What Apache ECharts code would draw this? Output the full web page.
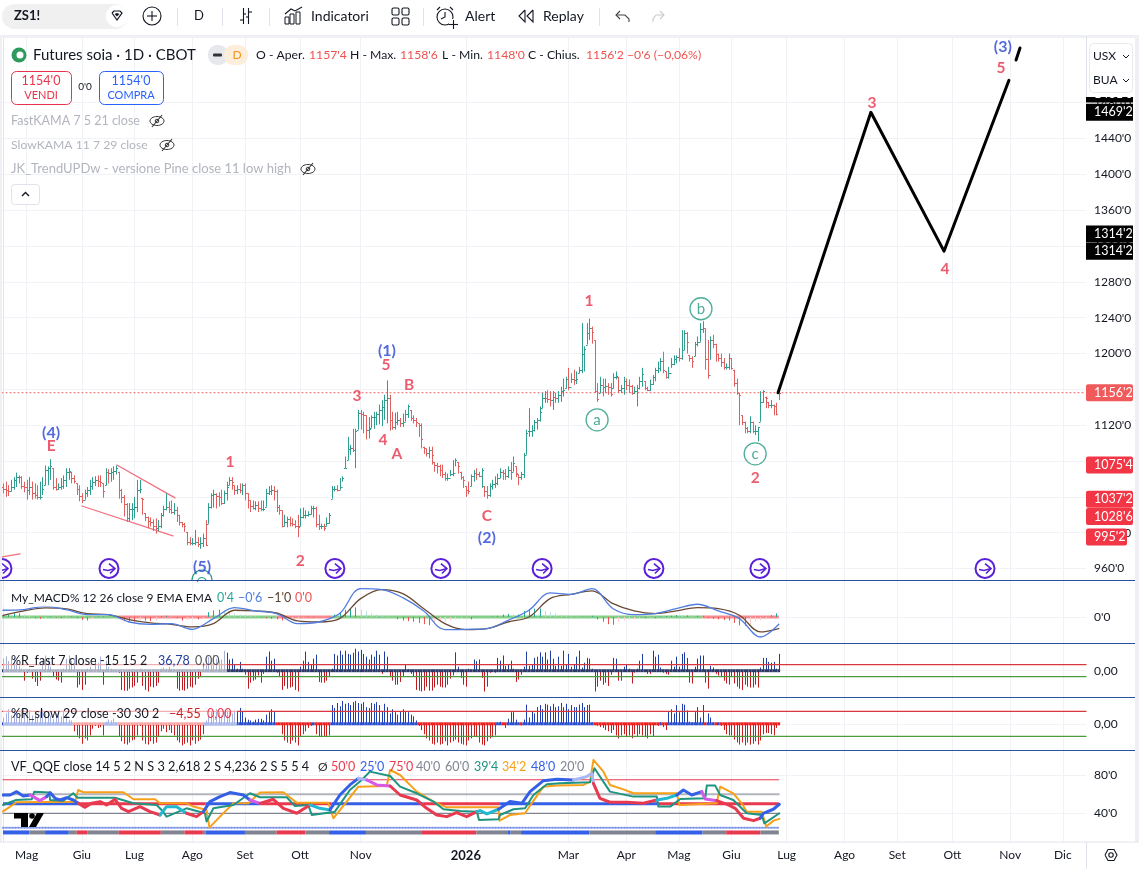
<!DOCTYPE html>
<html><head><meta charset="utf-8">
<style>html,body{margin:0;padding:0;background:#fff}#c{width:1139px;height:869px}</style>
<script src="https://cdn.jsdelivr.net/npm/echarts@6/dist/echarts.min.js"></script>
</head><body><div id="c"></div>
<script>
const opens=[1051,1049,1048,1046,1051,1059,1062,1062,1052,1051,
1048,1051,1044,1042,1040,1040,1053,1070,1072,1072,
1051,1049,1051,1052,1059,1068,1068,1061,1055,1049,
1041,1037,1044,1048,1052,1057,1059,1058,1055,1053,
1068,1067,1068,1069,1068,1048,1040,1032,1016,1026,
1027,1029,1048,1039,1022,1018,1013,1012,1008,1005,
1008,1020,1027,1029,1027,1023,1025,1020,1012,1010,
1001,990,989,989,990,987,988,994,1010,1029,
1042,1043,1041,1040,1033,1044,1053,1059,1053,1048,
1049,1048,1053,1044,1036,1030,1028,1031,1028,1026,
1029,1044,1047,1048,1046,1029,1025,1008,1012,1015,
1011,1010,1008,1007,1018,1020,1020,1021,1028,1028,
1010,1007,1007,1007,1011,1038,1049,1049,1048,1051,
1072,1081,1093,1094,1092,1115,1134,1133,1131,1115,
1117,1129,1129,1132,1137,1140,1148,1150,1126,1118,1124,
1126,1122,1124,1133,1137,1128,1126,1122,1120,1096,
1094,1089,1092,1079,1076,1074,1070,1065,1061,1061,
1066,1067,1079,1068,1062,1052,1048,1052,1063,1067,
1066,1063,1052,1046,1042,1052,1054,1056,1061,1068,
1067,1063,1070,1068,1074,1065,1062,1066,1087,1113,
1113,1115,1124,1126,1139,1150,1150,1149,1148,1152,
1150,1154,1158,1161,1172,1163,1172,1171,1178,1182,
1200,1210,1223,1228,1215,1158,1156,1165,1163,1164,
1163,1161,1174,1174,1159,1161,1169,1165,1164,1156,
1158,1161,1169,1169,1162,1159,1166,1174,1182,1184,
1192,1180,1174,1178,1188,1194,1196,1195,1204,1223,
1198,1195,1197,1211,1213,1227,1228,1194,1176,1215,
1211,1200,1195,1191,1185,1185,1195,1182,1167,1156,
1131,1124,1117,1113,1124,1113,1113,1124,1146,1152,
1146,1143,1143,1141,1157.5];
const highs=[1055,1057,1053,1059,1062,1067,1064,1063,1057,1059,
1062,1057,1055,1053,1057,1062,1075,1074,1082,1072,
1061,1055,1061,1064,1072,1072,1068,1064,1055,1053,
1044,1048,1051,1059,1062,1063,1064,1064,1055,1072,
1071,1072,1074,1075,1068,1049,1042,1033,1033,1033,
1040,1059,1059,1039,1022,1018,1017,1015,1016,1014,
1022,1030,1044,1035,1036,1033,1029,1020,1012,1011,
1001,995,994,1003,995,995,999,1014,1033,1044,
1048,1044,1045,1048,1047,1057,1062,1062,1053,1053,
1055,1055,1055,1044,1036,1036,1035,1035,1036,1036,
1049,1052,1053,1052,1048,1031,1025,1020,1018,1018,
1016,1014,1020,1027,1028,1025,1024,1030,1030,1029,
1020,1010,1010,1017,1022,1052,1052,1053,1061,1063,
1085,1107,1098,1116,1116,1137,1137,1135,1131,1129,
1131,1135,1135,1143,1148,1154,1170,1154,1135,1134,1135,
1128,1133,1137,1143,1137,1131,1128,1122,1122,1096,
1094,1096,1096,1079,1078,1076,1076,1068,1066,1070,
1081,1083,1079,1068,1063,1052,1057,1065,1070,1072,
1068,1072,1052,1052,1055,1059,1063,1066,1072,1070,
1071,1074,1079,1085,1074,1065,1068,1089,1115,1139,
1120,1126,1128,1141,1156,1158,1159,1158,1158,1156,
1158,1163,1172,1174,1184,1178,1182,1180,1185,1234,
1208,1234,1239,1230,1215,1167,1174,1172,1172,1167,
1167,1178,1180,1174,1165,1174,1172,1171,1165,1163,
1165,1174,1184,1169,1163,1171,1176,1184,1191,1195,
1202,1180,1185,1195,1198,1198,1206,1226,1226,1224,
1198,1197,1213,1219,1234,1236,1228,1215,1219,1221,
1211,1200,1200,1195,1189,1200,1195,1182,1172,1156,
1131,1124,1118,1130,1124,1120,1118,1158,1159,1152,
1146,1148,1143,1145,1158.75];
const lows=[1044,1040,1041,1046,1048,1051,1055,1049,1045,1037,
1042,1037,1038,1037,1037,1042,1053,1053,1059,1048,
1047,1048,1048,1049,1051,1059,1055,1055,1042,1035,
1033,1037,1040,1042,1048,1052,1051,1051,1039,1053,
1055,1057,1059,1065,1038,1033,1018,1012,1013,1014,
1016,1023,1044,1020,1013,1005,1007,1002,999,1002,
1005,1018,1025,1022,1021,1020,1012,1008,1006,1001,
986,986,986,986,984,982,984,985,1010,1027,
1028,1027,1029,1031,1032,1036,1053,1048,1042,1043,
1044,1042,1036,1027,1023,1026,1025,1023,1024,1024,
1029,1042,1042,1036,1023,1020,1006,1007,1006,1007,
1007,1005,995,1007,1016,1016,1018,1020,1017,1006,
1003,1004,1002,1007,1010,1038,1046,1046,1048,1057,
1072,1081,1087,1090,1072,1115,1115,1111,1104,1105,
1117,1116,1120,1121,1119,1126,1122,1114,1115,1115,1120,
1118,1118,1124,1128,1125,1122,1118,1107,1094,1088,
1085,1083,1076,1068,1066,1063,1061,1058,1058,1063,
1063,1074,1066,1059,1050,1040,1043,1052,1057,1059,
1062,1050,1040,1038,1040,1048,1050,1053,1061,1059,
1059,1061,1059,1068,1062,1053,1059,1061,1087,1107,
1107,1113,1115,1124,1139,1145,1145,1141,1137,1145,
1145,1146,1152,1161,1159,1167,1165,1166,1178,1178,
1180,1210,1215,1211,1156,1146,1156,1152,1156,1154,
1152,1161,1171,1156,1156,1154,1159,1156,1154,1155,
1141,1160,1163,1159,1158,1158,1165,1169,1178,1180,
1178,1172,1172,1184,1187,1189,1191,1193,1204,1200,
1191,1184,1197,1208,1213,1223,1182,1172,1193,1206,
1191,1191,1185,1182,1182,1182,1182,1163,1154,1120,
1120,1111,1111,1111,1111,1109,1102,1124,1145,1139,
1139,1139,1131,1131,1148];
const closes=[1049,1048,1046,1051,1059,1062,1062,1052,1051,1048,
1051,1044,1042,1040,1040,1049,1070,1072,1074,1051,
1049,1051,1052,1059,1068,1069,1061,1058,1049,1041,
1037,1044,1048,1052,1057,1059,1058,1057,1047,1068,
1067,1068,1069,1072,1048,1040,1032,1016,1026,1027,
1029,1048,1049,1038,1018,1013,1012,1008,1005,1008,
1020,1027,1029,1027,1023,1025,1020,1012,1010,1007,
990,989,989,990,987,988,994,986,1029,1042,
1043,1041,1040,1033,1044,1051,1059,1057,1048,1049,
1048,1053,1044,1036,1030,1028,1031,1028,1026,1027,
1044,1047,1048,1046,1029,1025,1008,1012,1015,1011,
1010,1008,1006,1018,1020,1020,1021,1028,1028,1010,
1007,1007,1005,1011,1020,1049,1049,1048,1051,1061,
1072,1093,1094,1092,1114,1134,1133,1131,1115,1116,
1129,1129,1132,1137,1140,1148,1150,1126,1118,1124,1126,
1122,1124,1133,1141,1128,1126,1124,1120,1105,1094,
1089,1092,1087,1076,1074,1070,1065,1061,1061,1066,
1067,1081,1074,1062,1059,1048,1047,1063,1067,1066,
1063,1070,1046,1042,1052,1054,1056,1061,1068,1067,
1063,1070,1068,1078,1067,1062,1066,1087,1111,1113,
1115,1124,1126,1135,1150,1150,1149,1148,1152,1150,
1154,1158,1159,1172,1163,1172,1171,1172,1182,1200,
1205,1223,1228,1224,1158,1149,1165,1163,1164,1163,
1155,1174,1175,1159,1161,1169,1165,1164,1156,1158,
1161,1169,1177,1162,1159,1166,1174,1182,1184,1192,
1182,1174,1178,1188,1194,1196,1195,1204,1223,1213,
1195,1192,1211,1213,1227,1228,1194,1176,1215,1211,
1200,1195,1191,1185,1185,1195,1184,1167,1156,1154,
1124,1117,1113,1124,1113,1113,1118,1146,1158,1150,
1143,1143,1141,1133,1156.25];

const priceTicks=[960,1000,1040,1080,1120,1160,1200,1240,1280,1320,1360,1400,1440,1480];
const monthDays=[9,30,50,72,92,113,136,176,215,237,257,277,298,320,340,361,383,403];
const monthNames=['Mag','Giu','Lug','Ago','Set','Ott','Nov','2026','Mar','Apr','Mag','Giu','Lug','Ago','Set','Ott','Nov','Dic'];

const forecastDaysA=[294.7,330,357.8,382.5];
const forecastPricesA=[1156.25,1469.25,1314.25,1505];
const forecastDaysB=[385.2,386.7];
const forecastPricesB=[1527.6,1541];
const channelUpperDays=[43.3,65.4], channelUpperPrices=[1075.6,1038.8];
const channelLowerDays=[30,64.6], channelLowerPrices=[1029.8,996.4];
const stubDays=[-0.4,6.5], stubPrices=[973,976.3];

const waveTexts=['E','(4)','1','2','5','(1)','3','4','A','B','C','(2)','1','2','3','4','5','(3)','(5)'];
const waveDays=[18.3,18.3,86.3,113,145.6,146,134.6,144.5,149.8,154.4,184,184,222.8,286,330.4,358.2,379.5,380.2,75.7];
const wavePrices=[1097,1111,1079,968.5,1187,1203,1153,1103.5,1088,1165,1018.6,994,1258.6,1061,1479.6,1294,1518.7,1542,962];
const circledTexts=['a','b','c'];
const circledDays=[225.9,265.4,286];
const circledPrices=[1126,1250,1088];
const sessionDays=[-0.4,40.3,126.2,166.5,205,247.5,287.8,373.4];
const sessionPrice=960;

const tagTexts=["1481'0","1469'2","1314'2","1314'2","1156'2","1075'4","1037'2","1028'6","995'2"];
const tagPrices=[1489.7,1469.25,1333.4,1314.25,1156.25,1075.5,1037.25,1018,995.25];
const tagColours=['#000','#000','#000','#000','#f05a5a','#f23645','#f23645','#f23645','#f23645'];

const macdDays=[0,8,16,24,32,40,48,56,64,72,80,88,96,104,112,120,128,136,144,152,160,168,176,184,192,200,208,216,224,232,240,248,256,264,272,280,288,295];
const macdFast=[.56,.61,.89,.61,.19,.19,-.42,-.61,-.56,-1.03,-.14,.78,.5,.28,-.56,-.42,.28,2.36,2.28,1.61,.5,-1.06,-1.03,-.97,-.28,.56,2,1.89,2.36,.69,.19,.28,.69,1.06,.5,-.14,-1.67,-.61];
const macdSlow=[.14,.5,.75,.67,.28,.19,-.22,-.5,-.61,-.83,-.56,.56,.5,.33,-.33,-.42,-.14,1.53,2.28,1.94,.69,-.56,-1.06,-.97,-.42,0,1.53,1.89,2.17,1.11,.5,.28,.5,.78,.69,.14,-1.25,-.97];
const macdHist=[.1,.2,.3,.3,.2,.1,-.1,-.15,-.1,.05,-.05,-.1,-.05,.05,-.1,-.25,-.3,-.2,.05,.05,0,0,0,-.3,-.4,-.4,-.3,-.3,-.35,-.3,.08,.1,.05,-.1,-.3,-.25,-.2,-.2,-.1,.4,.55,.6,.55,.45,.3,.2,.15,.1,.05,-.05,-.1,-.15,-.2,-.3,-.2,-.15,-.1,-.05,-.05,-.05,0,0,.02,.2,.4,.6,.75,.8,.6,.45,.3,.2,.1,.05,.02,-.2,-.3,-.35,-.4,-.5,-.6,-.7,-.6,-.45,-.4,-.3,-.2,-.1,-.05,-.2,.02,0,0,.05,.1,.2,.25,.2,.2,.5,.65,.7,.7,.5,.4,.3,.2,.1,.05,.02,.02,.02,.1,-.2,-.4,-.6,-.65,-.4,-.3,-.2,-.15,-.1,-.1,-.05,-.1,.05,.08,.1,.15,.1,.12,.05,.1,.1,-.1,-.15,-.2,-.25,-.3,-.5,-.7,-.75,-.6,-.4,-.3,-.1,.15,.3];
const macdZeroGreen=[[-1,44],[79,104],[125,198],[198,266]];
const macdZeroRed=[[44,79],[104,125],[266,295]];

const rFast=[30,36,24,30,34,20,12,5,-25,-5,
5,-20,-28,-38,-25,25,38,30,10,-15,
-22,-25,-30,5,30,38,25,30,-42,-35,
-48,-35,5,10,3,30,20,35,-35,25,
10,5,2,0,-5,-48,-50,-50,-45,-42,
-38,-30,5,-38,-48,-52,-40,-42,-38,-30,
5,8,5,10,5,4,-45,-50,-48,-50,
-45,-40,-42,-35,-20,-15,20,38,34,30,
40,30,25,28,50,45,28,30,15,5,
22,5,-10,-45,-30,-25,-22,-12,-30,-8,
35,48,25,30,-5,-15,-48,-38,-45,-42,
-40,-48,-52,10,25,48,22,15,30,40,
-28,-30,-30,-25,-15,5,42,38,50,40,
50,42,40,45,55,48,52,42,35,28,
40,35,50,40,-8,48,35,-15,-25,-35,-35,
-28,-15,15,4,-8,-15,-48,-50,-52,-50,
-40,-50,-50,-42,-35,-40,-42,-42,-35,-20,
-12,46,10,-18,-35,-40,5,3,28,24,
28,-18,-52,-40,-5,2,-5,32,25,38,
12,15,25,5,-28,-22,-10,10,48,12,
15,32,35,46,35,46,28,50,30,12,
35,12,50,15,42,10,15,35,50,8,
20,32,30,5,-52,-40,-25,-35,-30,-38,
-10,32,30,-25,-25,10,15,5,-32,-5,
5,25,42,2,-8,-8,50,35,40,8,
-5,-8,-10,25,10,35,10,42,46,32,
-30,-32,10,30,38,38,-30,-45,12,8,
-8,-12,-15,-25,-32,-35,-15,-32,-40,-45,
-48,-35,-40,-42,-42,-35,-42,8,32,32,
22,20,22,5,42];
const rSlow=[15,25,35,20,30,28,22,35,25,30,
32,20,28,15,30,35,25,30,20,12,
25,32,18,28,22,10,8,-18,-28,-35,
-48,-35,-40,-28,-12,-5,-10,-8,-28,5,
10,8,12,3,-30,-42,-48,-50,-45,-40,
-38,-28,-5,-40,-48,-50,-42,-48,-45,-30,
-18,-12,-20,-15,-22,-28,-40,-45,-52,-48,
-45,-52,-40,-48,-42,-38,-25,8,20,30,
25,35,28,20,30,32,30,25,32,28,
38,30,15,10,8,5,10,12,12,8,
22,28,35,28,-2,-2,-25,-40,-45,-48,
-40,-45,-52,-30,-25,-18,-10,-5,2,-25,
-30,-32,-30,-32,-28,45,38,50,42,55,
48,50,45,52,55,50,48,52,40,38,
50,48,52,45,30,48,40,25,35,28,22,
30,35,30,28,22,18,8,-5,-15,-25,
-35,-40,-48,-50,-45,-50,-48,-42,-52,-45,
-42,-38,-45,-48,-50,-52,-40,-35,-30,-32,
-45,-50,-52,-42,-35,-32,-28,3,5,-3,
-10,12,28,28,10,2,-4,10,46,15,
30,25,40,45,35,48,46,42,48,40,
42,50,40,48,35,45,40,40,46,50,
40,45,46,3,-3,-5,-8,-10,-15,-18,
-22,-15,-28,-35,-28,-25,-30,-28,-35,-25,
-30,-25,-28,-32,-35,-25,-30,-3,-5,3,
-8,-15,28,35,25,45,28,48,46,32,
5,3,28,40,15,45,-3,25,15,3,
-2,3,-5,-15,-25,-28,-28,-38,-45,-50,
-45,-52,-45,-50,-48,-42,-50,-40,-25,-22,
-22,-25,-28,-10,-3];

const qqeMainDays=[0,2.7,5.2,7.7,10.3,11.5,14,16.6,17.9,19.8,21.7,24.2,26.7,28.6,31.2,33.7,36.9,39.4,42.6,45.1,47.7,52.1,55.9,59.7,62.2,66,69.8,73.6,76.2,78.7,82.5,86.3,91.4,93.9,97.7,102.8,106.6,111.7,116.7,120.5,124.3,128.1,131.9,135.1,138.3,142.1,147.2,151,
157.3,161.1,164.9,168.7,172.5,176.3,180.2,181.4,184,188.4,192.8,197.3,200.4,205.5,210.6,216.9,222,223.9,224.5,227,230.8,237.2,243.5,248.6,252.4,256.2,258.7,261.9,265.7,267,271.4,275.8,278.4,281.6,285.4,287.9,289.1,292.9,295.2];
const qqeMain=[59.1,59.1,62.6,58,59.1,57.4,53.2,57.4,61.6,55.6,53.9,56.3,53.9,50.4,46.2,50.4,52.2,48.7,54.6,45.2,41.7,46.9,41.7,38.2,46.9,46.9,40,36.5,41.7,52.2,57.4,61.6,59.1,53.9,50.4,54.6,45.2,40,48.7,45.2,43.5,59.1,69.6,76.5,74.8,69.6,68.5,59.1,
53.9,45.2,38.2,36.5,40.7,36.5,41.7,42.8,39.3,44.2,52.2,50.4,62.6,74.1,75.5,74.8,78.3,81.7,71.3,55.6,51.5,51.5,50.4,53.9,55.6,59.1,64.3,59.1,62.6,54.9,53.2,48.7,45.2,34.8,32.3,34.8,40,44.2,49.4];
const qqeOrangeDays=[0,5.2,27.4,28.6,30.5,45.8,49.6,57.8,59.7,69.8,72.4,77.4,78.5,82.5,87.6,93.3,97.7,106.6,111.7,123.7,125.6,130.7,135.1,145.9,147.2,151,
157.3,163.7,168.7,188.4,188.8,192.8,198.5,201,205.5,210.6,220.7,223.2,224.5,228.3,230.8,235.9,239.7,256.2,257.2,271.4,272.7,277.7,280.9,282.8,288.5,290.2,293,295.2];
const qqeOrange=[42,51.5,52,64.3,62,62,54.6,54.6,50.4,50.4,47,43.5,25,36.5,50.4,50.4,61.6,61.9,51,51,34.8,52.2,67.8,68.5,85.2,80,
62.6,52.2,46.2,46.2,32.3,38.2,40,50.4,67.8,68.9,69.6,73,95.7,83.5,69.6,65,60.9,60.9,48.7,50.4,67.8,60.9,50.4,41.7,41.7,26.1,32.3,34.2];
const qqeTealDays=[0,5,10.9,11.9,17.6,17.9,23,26.7,28.3,42.6,49.6,58.4,60.3,62.2,69.8,76.8,77.4,80,87.6,93.9,97.7,107.9,111,116.1,117.4,124.3,126.2,131.9,136.4,139.5,147.2,151,
157.3,163.7,167.5,173.8,180.2,181,188.4,189,194.1,198.5,201.7,206.8,211.8,223.2,224.9,230.8,239.7,248.6,249.2,253.7,257.5,267,267.6,270.8,272.7,277.7,282.8,288.5,289.5,295.2];
const qqeTeal=[48.7,53.9,54.6,62.6,61.6,53.9,53.2,60.9,56.3,56.3,50.4,48.7,43.5,36.5,45.2,40,31.3,45.2,48.7,60.9,56.7,56.7,47.6,48.7,38.2,40.7,41.7,64.3,74.8,83.5,79,67.8,
60.9,52.2,44.2,42.4,41.7,33,33.7,38.2,44.2,45.2,59.1,70.3,71.3,72.3,87,62.6,57.4,57.4,47,47,54.9,55.6,68.9,68.9,59.1,53.9,40,38.2,29.5,40];
const qqeSpans=[[0,4,'b'],[4,7,'m'],[7,13,'b'],[13,23,'r'],[23,26,'c'],[26,28,'r'],[28,33,'b'],[33,34,'m'],[34,38,'r'],[38,40,'c'],[40,43,'b'],[43,44,'l'],[44,46,'m'],[46,54,'r'],[54,57,'c'],[57,63,'b'],[63,66,'l'],[66,71,'r'],[71,73,'c'],[73,76,'b'],[76,78,'m'],[78,83,'r'],[83,86,'b']];
const qqeMidSpans=[[0,29,'b'],[29,77,'r'],[77,98,'b'],[98,125,'r'],[125,160,'b'],[160,189,'r'],[189,249,'b'],[249,295,'r']];
const qqeStateSpans=[[0,10,'b'],[10,16,'g'],[16,25,'b'],[25,28,'g'],[28,32,'r'],[32,44,'g'],[44,60,'r'],[60,69,'g'],[69,76,'r'],[76,77,'g'],[77,92,'b'],[92,104,'g'],[104,115,'r'],[115,124,'g'],[124,138,'b'],[138,159,'g'],[159,180,'r'],[180,192,'g'],[192,193,'b'],[193,197,'g'],[197,223,'b'],[223,248,'g'],[248,266,'b'],[266,275,'g'],[275,288,'r'],[288,295,'g']];

const FONT='Lato, "Open Sans", sans-serif';
const XMIN=-0.38, XMAX=411.8;
const UP='#2f9e8f', DOWN='#e0605f';
const gridBoxes=[[38,580],[580,643],[643,697],[697,750],[750,842]];
const yRanges=[[947.2,1552.2],[-2.17,3.08],[-65.75,69.25],[-62.9,64.3],[10,106.1]];
const yTicks=[priceTicks,[0],[0],[0],[40,80]];
const GRIDC='#f0f2f6';
const pal={b:'#3460e8',m:'#d858e8',r:'#e8394f',c:'#22b8cf',l:'#a9b6f5',g:'#808491'};

function pts(xs,ys){return xs.map((x,i)=>[x,ys[i]]);}
function lineS(g,data,color,width,extra){return Object.assign({type:'line',xAxisIndex:g,yAxisIndex:g,data,symbol:'none',silent:true,z:3,
  lineStyle:{color,width,type:(extra&&extra.dash)||'solid',cap:'round',join:'round'}},extra&&extra.smooth?{smooth:extra.smooth}:{},extra&&extra.z?{z:extra.z}:{});}
function spanS(g,val,spans,cmap,width,z){return {type:'custom',xAxisIndex:g,yAxisIndex:g,z:z||3,silent:true,data:spans.map(s=>[s[0],val,s[1]]),encode:{x:[0,2],y:1},
  renderItem(p,api){const s=spans[p.dataIndex],a=api.coord([s[0],val]),b=api.coord([s[1],val]);
    return {type:'line',shape:{x1:a[0],y1:a[1],x2:b[0],y2:b[1]},style:{stroke:cmap(s),lineWidth:width}};}};}
function barsS(g,values,step,colorFn,zero,z){return {type:'custom',xAxisIndex:g,yAxisIndex:g,z:z||2,silent:true,data:values.map((v,i)=>[i*step,v]),encode:{x:0,y:1},
  renderItem(p,api){const i=p.dataIndex,v=values[i],a=api.coord([i*step,0]),b=api.coord([i*step,v]),x=Math.round(a[0])+.5,ch=[];
    ch.push({type:'line',shape:{x1:x,y1:a[1],x2:x,y2:b[1]},style:{stroke:colorFn(v,i),lineWidth:1}});
    if(zero){const c=api.coord([i*step-.5,0]),d=api.coord([i*step+.5,0]);ch.push({type:'line',shape:{x1:c[0],y1:c[1],x2:d[0],y2:d[1]},style:{stroke:zero(v),lineWidth:3}});}
    return {type:'group',children:ch};}};}

const series=[];
series.push({type:'custom',xAxisIndex:0,yAxisIndex:0,z:4,silent:true,clip:true,
  data:closes.map((c,i)=>[i,opens[i],highs[i],lows[i],c]),encode:{x:0,y:[1,2,3,4]},
  renderItem(p,api){const i=api.value(0),o=api.value(1),h=api.value(2),l=api.value(3),c=api.value(4);
    const x=Math.round(api.coord([i,o])[0])+.5,col=c>=o?UP:DOWN,s={stroke:col,lineWidth:1},
      yo=Math.round(api.coord([i,o])[1])+.5,yc=Math.round(api.coord([i,c])[1])+.5;
    return {type:'group',children:[
      {type:'line',shape:{x1:x,y1:api.coord([i,h])[1],x2:x,y2:api.coord([i,l])[1]},style:s},
      {type:'line',shape:{x1:x-1.5,y1:yo,x2:x,y2:yo},style:s},
      {type:'line',shape:{x1:x,y1:yc,x2:x+1.5,y2:yc},style:s}]};}});
series.push(lineS(0,[[XMIN,closes[closes.length-1]],[XMAX,closes[closes.length-1]]],'#f05a5a',1,{dash:[1,3]}));
series.push(lineS(0,pts(forecastDaysA,forecastPricesA),'#000',3,{z:6}));
series.push(lineS(0,pts(forecastDaysB,forecastPricesB),'#000',3,{z:6}));
series.push(lineS(0,pts(channelUpperDays,channelUpperPrices),'#f2707f',1.3));
series.push(lineS(0,pts(channelLowerDays,channelLowerPrices),'#f2707f',1.3));
series.push(lineS(0,pts(stubDays,stubPrices),'#f2707f',1.3));
series.push({type:'scatter',xAxisIndex:0,yAxisIndex:0,z:7,silent:true,symbolSize:0,
  data:waveTexts.map((t,i)=>({value:[waveDays[i],wavePrices[i]],label:{show:true,position:'inside',formatter:t,fontFamily:FONT,fontWeight:'bold',fontSize:t.length>1?16:15.5,
     color:t.length>1?'#2a43d6':'#e8334a'}}))});
series.push({type:'scatter',xAxisIndex:0,yAxisIndex:0,z:7,silent:true,symbol:'circle',symbolSize:22,
  itemStyle:{color:'#fff',borderColor:'#22997e',borderWidth:1.3},
  data:circledTexts.map((t,i)=>({value:[circledDays[i],circledPrices[i]],label:{show:true,position:'inside',formatter:t,fontFamily:FONT,fontSize:15,color:'#22997e'}}))});
series.push({type:'custom',xAxisIndex:0,yAxisIndex:0,z:5,silent:true,clip:true,data:sessionDays.map(d=>[d,sessionPrice]),encode:{x:0,y:1},
  renderItem(p,api){const c=api.coord([api.value(0),api.value(1)]),x=c[0],y=c[1],s={stroke:'#5a1fd6',lineWidth:1.6,fill:null};
    return {type:'group',children:[
      {type:'circle',shape:{cx:x,cy:y,r:9.5},style:{stroke:'#5a1fd6',lineWidth:2,fill:'#fff'}},
      {type:'polyline',shape:{points:[[x-6,y+1],[x-1,y+2],[x+6,y]]},style:s},
      {type:'polyline',shape:{points:[[x,y-5],[x+6,y],[x+1,y+5]]},style:s}]};}});
series.push({type:'custom',xAxisIndex:0,yAxisIndex:0,z:60,silent:true,clip:false,data:tagPrices.map((v,i)=>[XMAX,v,i]),encode:{x:0,y:1},
  renderItem(p,api){const i=p.dataIndex,c=api.coord([XMAX,tagPrices[i]]),w=tagTexts[i].length>5?47:41;
    return {type:'group',children:[
      {type:'rect',shape:{x:c[0],y:c[1]-8.5,width:w,height:17,r:i>3?2:0},style:{fill:tagColours[i]}},
      {type:'text',x:c[0]+8,y:c[1],style:{text:tagTexts[i],fill:'#fff',font:'12.5px '+FONT,textVerticalAlign:'middle',verticalAlign:'middle'}}]};}});

series.push(spanS(1,0,macdZeroGreen,()=>'#86cf88',3,2));
series.push(spanS(1,0,macdZeroRed,()=>'#f58a8f',3,2));
series.push(barsS(1,macdHist,2,(v,i)=>{const q=macdHist[i-1]||0;return v>=0?(v>=q?'#26a69a':'#b2dfdb'):(v<=q?'#ef5350':'#ffcdd2');},null,3));
series.push(lineS(1,pts(macdDays,macdSlow),'#6b4a35',1.3,{smooth:.35,z:4}));
series.push(lineS(1,pts(macdDays,macdFast),'#4f7de0',1.3,{smooth:.35,z:5}));

series.push(lineS(2,[[XMIN,15],[XMAX,15]],'#d9363e',1.2));
series.push(lineS(2,[[XMIN,-15],[XMAX,-15]],'#4f9a3e',1.2));
series.push(barsS(2,rFast,1,v=>v>=0?'#1f3f9e':'#c2181f',()=>'#2b3a67'));
series.push(lineS(3,[[XMIN,30],[XMAX,30]],'#d9363e',1.2));
series.push(lineS(3,[[XMIN,-30],[XMAX,-30]],'#4f9a3e',1.2));
series.push(barsS(3,rSlow,1,v=>v>=0?'#1f3fb0':'#c81e1e',v=>v>=0?'#2a4fd0':'#ee2020'));

series.push(lineS(4,[[0,75],[295,75]],'#e8394f',1));
series.push(lineS(4,[[0,60],[295,60]],'#b2b5be',2));
series.push(lineS(4,[[0,40],[295,40]],'#808491',1.2));
series.push(lineS(4,[[0,25],[295,25]],'#7a93e8',2,{dash:[1,2]}));
series.push(spanS(4,50,qqeMidSpans,s=>pal[s[2]],3,2));
series.push(spanS(4,20,qqeStateSpans,s=>pal[s[2]],4,2));
series.push(lineS(4,pts(qqeOrangeDays,qqeOrange),'#f7a11a',2,{z:4}));
series.push(lineS(4,pts(qqeTealDays,qqeTeal),'#1f9480',2,{z:5}));
qqeSpans.forEach(s=>{const d=[];for(let i=s[0];i<=s[1];i++)d.push([qqeMainDays[i],qqeMain[i]]);series.push(lineS(4,d,pal[s[2]],3,{z:6}));});

const G=[];
function T(x,y,s,o){o=o||{};G.push({type:'text',x,y,z:o.z||100,silent:true,style:{text:s,fill:o.c||'#131722',font:(o.w||'normal')+' '+(o.s||13)+'px '+FONT,textAlign:o.a||'left',align:o.a||'left',textVerticalAlign:'middle',verticalAlign:'middle'}});}
function R(x,y,w,h,fill,o){o=o||{};G.push({type:'rect',z:o.z||90,silent:true,shape:{x,y,width:w,height:h,r:o.r||0},style:{fill:fill,stroke:o.st||null,lineWidth:o.lw||1}});}
function L(x1,y1,x2,y2,c,w,z){G.push({type:'line',z:z||95,silent:true,shape:{x1,y1,x2,y2},style:{stroke:c,lineWidth:w||1}});}
function P(points,c,w,z,fill){G.push({type:fill?'polygon':'polyline',z:z||100,silent:true,shape:{points},style:fill?{fill:c}:{stroke:c,lineWidth:w||1.2,fill:null}});}
function C(cx,cy,r,st,fill,lw){G.push({type:'circle',z:100,silent:true,shape:{cx,cy,r},style:{stroke:st||null,fill:fill||null,lineWidth:lw||1.2}});}

R(0,0,1139,35,'#fff',{z:80});
R(0,35,1139,3,'#eef0f4',{z:96});
R(0,38,2,804,'#eef0f4',{z:96});
R(1135,38,4,804,'#eef0f4',{z:96});
[580,643,697,750].forEach(y=>L(0,y+.5,1135,y+.5,'#2a4ea0',1.2,97));
L(0,842,1139,842,'#e0e3eb',1.2,97);
L(1086.5,842,1086.5,869,'#e0e3eb',1,97);

R(2,4,126,25,'#f0f0f0',{r:12.5});
T(14,16,'ZS1!',{w:'bold',s:13});
C(117,16,11,null,'#fff');
P([[112,13],[114,11],[120,11],[122,13],[117,20],[112,13]],'#131722',1.2);
P([[114.5,14],[117,16.5],[119.5,14],[117,13]],'#131722',1,101,true);
C(152,16,9,'#131722',null,1.1);L(152,11,152,21,'#131722',1.1,101);L(147,16,157,16,'#131722',1.1,101);
T(199,16,'D',{a:'center',s:13});
[177,222,269,423,599].forEach(x=>L(x+.5,8,x+.5,26,'#e0e3eb',1,100));
L(243.5,8,243.5,24,'#131722',1.1,101);L(240,20,243.5,20,'#131722',1.1,101);L(248.5,8,248.5,24,'#131722',1.1,101);L(248.5,12,252,12,'#131722',1.1,101);L(243.5,14,246,14,'#131722',1.1,101);L(246,17,248.5,17,'#131722',1.1,101);
G.push({type:'rect',z:100,silent:true,shape:{x:285,y:17,width:4,height:7},style:{stroke:'#131722',fill:null}});
G.push({type:'rect',z:100,silent:true,shape:{x:290,y:14,width:4,height:10},style:{stroke:'#131722',fill:null}});
G.push({type:'rect',z:100,silent:true,shape:{x:296,y:12,width:4,height:12},style:{stroke:'#131722',fill:null}});
P([[285,14],[291,9],[295,11],[302,7]],'#131722',1.1);
T(311,16,'Indicatori',{s:14});
[[392,8],[402,8],[392,18],[402,18]].forEach(a=>G.push({type:'rect',z:100,silent:true,shape:{x:a[0],y:a[1],width:7,height:7,r:1.5},style:{stroke:'#131722',fill:null,lineWidth:1.1}}));
C(445,17,8,'#131722',null,1.1);P([[445,12],[445,17],[441,19]],'#131722',1.1);L(440,7,437,10,'#131722',1.1,101);L(450,7,453,10,'#131722',1.1,101);
R(449,19,9,9,'#fff',{z:100});L(453.5,20,453.5,29,'#131722',1.1,101);L(449,24.5,458,24.5,'#131722',1.1,101);
T(465,16,'Alert',{s:14});
P([[525,10],[519,16],[525,22],[525,10]],'#131722',1.1);P([[533,10],[527,16],[533,22],[533,10]],'#131722',1.1);
T(543,16,'Replay',{s:14});
P([[620,11],[616,15],[620,19]],'#444',1.1);P([[616,15],[625,15],[629,19],[629,22]],'#444',1.1);
P([[660,11],[664,15],[660,19]],'#c8cad0',1.1);P([[664,15],[656,15],[653,19],[653,22]],'#c8cad0',1.1);

C(19,55,7.5,null,'#2e9b5d');C(20,55,3.5,null,'#fff');
T(33,55,'Futures soia · 1D · CBOT',{s:15});
R(208,45,20,20,'#e6e8ec',{r:9});R(224,45,24,20,'#fdeedb',{r:9});R(213,53.5,9,3,'#333',{z:100,r:1});
T(237,55,'D',{s:12,c:'#f7941d',a:'center'});
const RV='#ef5350';
[[256,'O - Aper.',0],[309,"1157'4",1],[350,'H - Max.',0],[400,"1158'6",1],[442,'L - Min.',0],[487,"1148'0",1],[528,'C - Chius.',0],[586,"1156'2",1],[627,"−0'6 (−0,06%)",1]]
 .forEach(a=>T(a[0],55,a[1],{s:12.2,c:a[2]?RV:'#131722'}));
G.push({type:'rect',z:100,silent:true,shape:{x:11.5,y:71.5,width:60,height:33,r:5},style:{stroke:'#e8334a',fill:'#fff',lineWidth:1}});
G.push({type:'rect',z:100,silent:true,shape:{x:99.5,y:71.5,width:64,height:33,r:5},style:{stroke:'#2962ff',fill:'#fff',lineWidth:1}});
T(41,81,"1154'0",{s:12.5,c:'#e8334a',a:'center',z:101});T(41,95,'VENDI',{s:11,c:'#e8334a',a:'center',z:101});
T(85,87,"0'0",{s:10,a:'center'});
T(131,81,"1154'0",{s:12.5,c:'#2962ff',a:'center',z:101});T(131,95,'COMPRA',{s:11,c:'#2962ff',a:'center',z:101});
const HID='#b2b5be';
[[121,'FastKAMA 7 5 21 close',157,12.5],[145,'SlowKAMA 11 7 29 close',167,12.2],[169,'JK_TrendUPDw - versione Pine close 11 low high',308,13]].forEach(a=>{
  T(11,a[0],a[1],{s:a[3],c:HID});
  G.push({type:'ellipse',z:100,silent:true,shape:{cx:a[2],cy:a[0],rx:7,ry:4.5},style:{stroke:'#333',fill:null,lineWidth:1}});
  C(a[2],a[0],1.8,'#333',null,1);L(a[2]-5,a[0]+6,a[2]+5,a[0]-6,'#333',1.1,101);
});
G.push({type:'rect',z:100,silent:true,shape:{x:11.5,y:184.5,width:28,height:20,r:3},style:{stroke:'#e0e3eb',fill:'#fff',lineWidth:1}});
P([[22,196],[25.5,192.5],[29,196]],'#131722',1.4);

R(1086,36,53,61,'#fff',{z:70});
G.push({type:'rect',z:101,silent:true,shape:{x:1089.5,y:43.5,width:43,height:49,r:4},style:{stroke:'#e8eaef',fill:'#fff',lineWidth:1}});
T(1093,56,'USX',{s:12,z:102});T(1093,80,'BUA',{s:12,z:102});
P([[1123,55],[1126,58],[1129,55]],'#131722',1,102);P([[1123,79],[1126,82],[1129,79]],'#131722',1,102);
L(1086.5,36,1086.5,97,'#e0e3eb',1,97);

R(0,590,314,17,'rgba(255,255,255,.55)',{z:90});
T(11,598,'My_MACD% 12 26 close 9 EMA EMA',{s:12});
T(217,598,"0'4",{s:12.5,c:'#26a69a'});T(238,598,"−0'6",{s:12.5,c:'#4f7de0'});T(267,598,"−1'0",{s:12.5,c:'#5a3e2b'});T(295,598,"0'0",{s:12.5,c:'#ef5350'});
R(3,649,224,23,'rgba(255,255,255,.6)',{z:90});
T(11,661,'%R_fast 7 close -15 15 2',{s:12.5});T(158,661,'36,78',{s:12.5,c:'#1f3f9e'});T(195,661,'0,00',{s:12.5,c:'#555'});
R(3,700,234,25,'rgba(255,255,255,.6)',{z:90});
T(11,714,'%R_slow 29 close -30 30 2',{s:12.5});T(169,714,'−4,55',{s:12.5,c:'#c81e1e'});T(207,714,'0,00',{s:12.5,c:'#e8394f'});
T(11,767,'VF_QQE close 14 5 2 N S 3 2,618 2 S 4,236 2 S 5 5 4',{s:12.7});
T(318,767,'Ø',{s:12,c:'#333'});
[[331,"50'0",'#e8394f'],[360,"25'0",'#3460e8'],[389,"75'0",'#e8394f'],[416,"40'0",'#808491'],[445,"60'0",'#808491'],[474,"39'4",'#1f9480'],[502,"34'2",'#f7a11a'],[531,"48'0",'#3460e8'],[560,"20'0",'#808491']]
 .forEach(a=>T(a[0],767,a[1],{s:12.5,c:a[2]}));

P([[14,813],[28,813],[28,827],[21,827],[21,818.5],[14,818.5]],'#000',1,100,true);
C(32,816,2.8,null,'#000');
P([[37,813],[44,813],[36,827],[29,827]],'#000',1,100,true);

G.push({type:'arc',z:6,silent:true,shape:{cx:202,cy:580,r:10,startAngle:Math.PI,endAngle:2*Math.PI},style:{stroke:'#22997e',fill:null,lineWidth:1.2}});
G.push({type:'arc',z:6,silent:true,shape:{cx:202,cy:582,r:4.5,startAngle:Math.PI,endAngle:1.85*Math.PI},style:{stroke:'#22997e',fill:null,lineWidth:1.2}});

P([[1105,855],[1108,849.5],[1114,849.5],[1117,855],[1114,860.5],[1108,860.5],[1105,855]],'#131722',1.1);
C(1111,855,2.2,'#131722',null,1.1);

const grid=gridBoxes.map(b=>({left:2,right:53,top:b[0],height:b[1]-b[0],containLabel:false}));
const xAxis=gridBoxes.map((b,i)=>({type:'value',gridIndex:i,min:XMIN,max:XMAX,position:'bottom',
  axisLine:{show:false},axisTick:{show:false,customValues:monthDays},
  splitLine:{show:true,lineStyle:{color:GRIDC,width:1}},
  axisLabel:i===4?{show:true,customValues:monthDays,showMinLabel:true,showMaxLabel:true,margin:7,fontFamily:FONT,fontSize:12,color:'#131722',
    formatter:v=>{const n=monthNames[monthDays.indexOf(v)];return n==='2026'?'{b|2026}':(n||'');},rich:{b:{fontWeight:'bold',fontFamily:FONT,fontSize:13,color:'#131722'}}}:{show:false,customValues:monthDays}}));
const yFmt=[v=>v+"'0",v=>"0'0",v=>'0,00',v=>'0,00',v=>v+"'0"];
const yAxis=gridBoxes.map((b,i)=>({type:'value',gridIndex:i,position:'right',min:yRanges[i][0],max:yRanges[i][1],scale:true,
  axisLine:{show:true,lineStyle:{color:'#e0e3eb'}},axisTick:{show:false,customValues:yTicks[i]},
  splitLine:{show:true,lineStyle:{color:GRIDC,width:1}},
  axisLabel:{show:true,customValues:yTicks[i],showMinLabel:true,showMaxLabel:true,margin:8,fontFamily:FONT,fontSize:12,color:'#131722',formatter:yFmt[i]}}));

const chart=echarts.init(document.getElementById('c'),null,{renderer:'canvas',width:1139,height:869});
chart.setOption({animation:false,backgroundColor:'#fff',textStyle:{fontFamily:FONT},grid,xAxis,yAxis,series,graphic:{elements:G}});
</script></body></html>
